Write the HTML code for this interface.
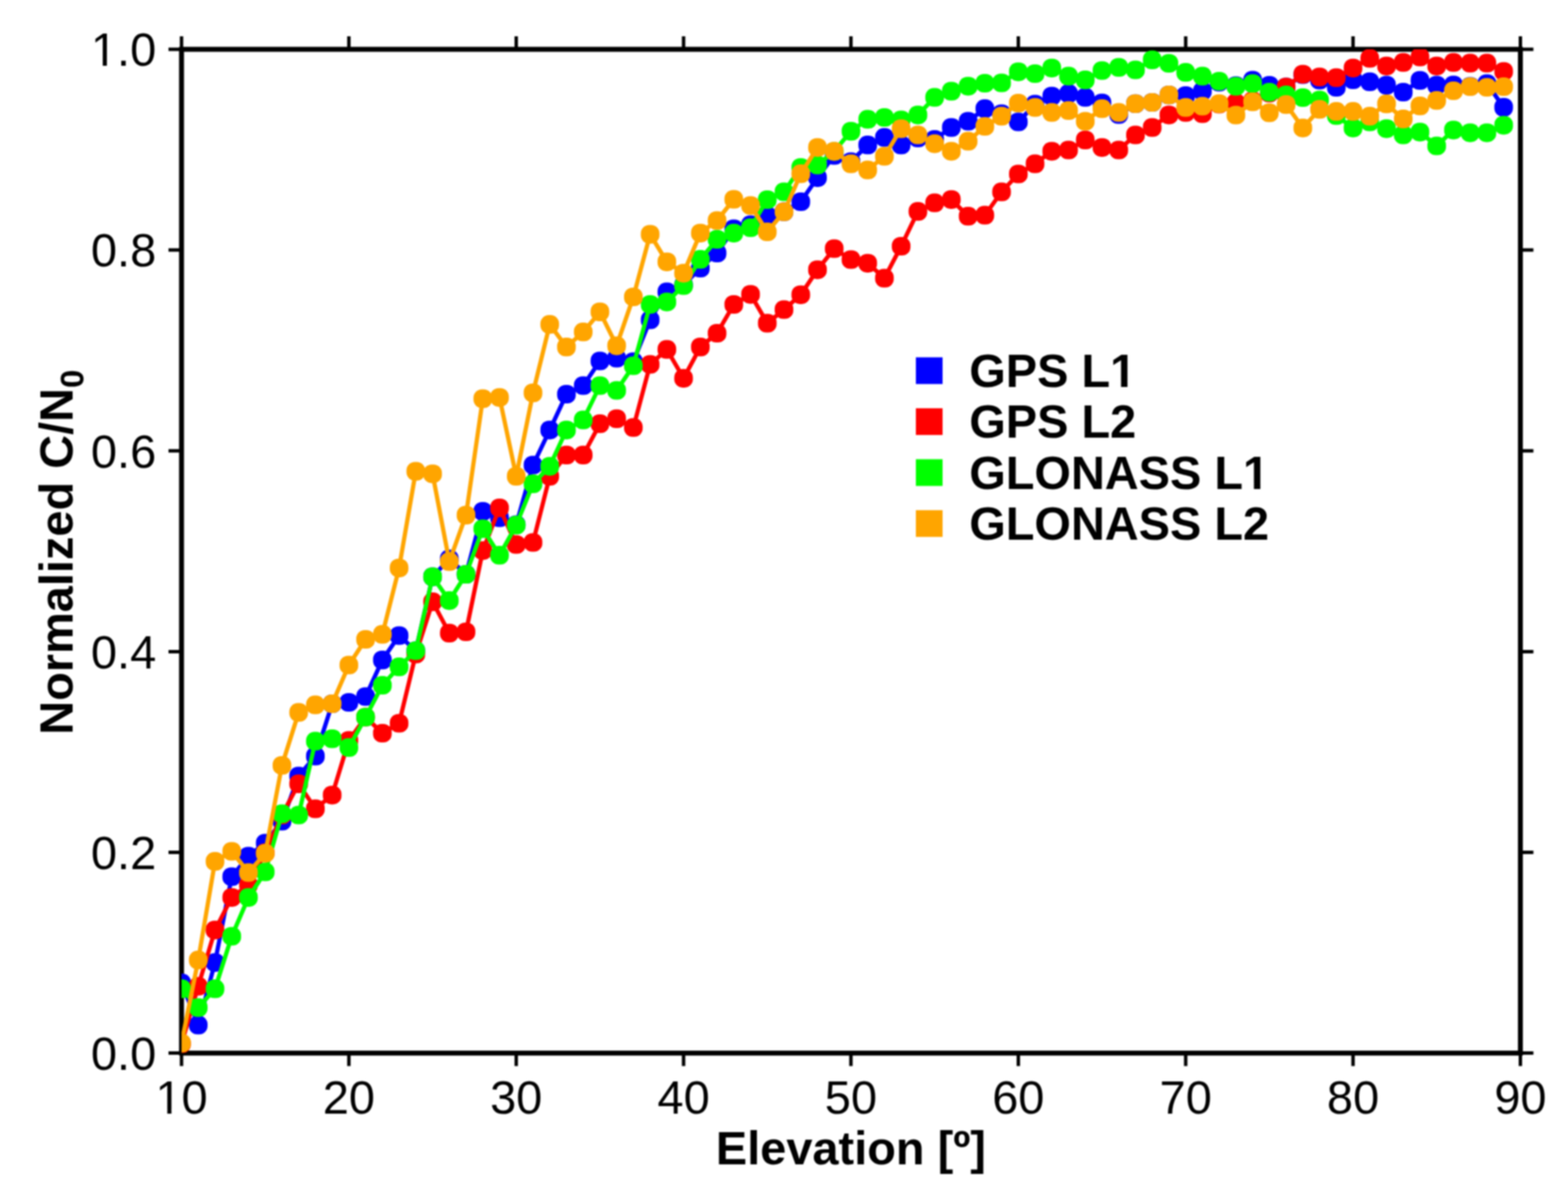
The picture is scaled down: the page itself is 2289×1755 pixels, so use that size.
<!DOCTYPE html>
<html lang="en"><head><meta charset="utf-8"><title>Normalized C/N0 vs Elevation</title>
<style>html,body{margin:0;padding:0;background:#fff;}body{width:2289px;height:1755px;overflow:hidden;}svg{display:block;}text{font-family:"Liberation Sans",Arial,Helvetica,sans-serif;fill:#000;}</style></head><body>
<svg width="2289" height="1755" viewBox="0 0 2289 1755">
<defs><filter id="soft" x="0" y="0" width="2289" height="1755" filterUnits="userSpaceOnUse" color-interpolation-filters="sRGB"><feGaussianBlur stdDeviation="1.10"/></filter></defs>
<g filter="url(#soft)">
<defs><clipPath id="plot"><rect x="265.0" y="72.0" width="1954.5" height="1465.6"/></clipPath></defs>
<rect width="2289" height="1755" fill="#fff"/>
<g stroke="#000" fill="none">
<rect x="265.0" y="72.0" width="1954.5" height="1465.6" stroke-width="7.2"/>
<path stroke-width="5.0" d="M265.0 1537.6v19M265.0 72.0v-19M509.3 1537.6v19M509.3 72.0v-19M753.6 1537.6v19M753.6 72.0v-19M997.9 1537.6v19M997.9 72.0v-19M1242.2 1537.6v19M1242.2 72.0v-19M1486.6 1537.6v19M1486.6 72.0v-19M1730.9 1537.6v19M1730.9 72.0v-19M1975.2 1537.6v19M1975.2 72.0v-19M2219.5 1537.6v19M2219.5 72.0v-19M265.0 1537.6h-19M2219.5 1537.6h19M265.0 1244.5h-19M2219.5 1244.5h19M265.0 951.4h-19M2219.5 951.4h19M265.0 658.2h-19M2219.5 658.2h19M265.0 365.1h-19M2219.5 365.1h19M265.0 72.0h-19M2219.5 72.0h19"/>
</g>
<g clip-path="url(#plot)">
<g fill="#0000ff" stroke="#0000ff">
<polyline fill="none" stroke-width="6.2" stroke-linejoin="round" stroke-linecap="round" points="265.0,1435.0 289.4,1496.7 313.9,1405.3 338.3,1280.0 362.7,1250.0 387.2,1231.0 411.6,1199.0 436.0,1133.0 460.4,1104.0 484.9,1027.5 509.3,1025.5 533.7,1017.0 558.2,963.6 582.6,928.0 607.0,950.0 631.5,842.1 655.9,816.0 680.3,838.5 704.8,746.6 729.2,756.0 753.6,766.0 778.1,679.0 802.5,627.8 826.9,575.5 851.4,563.0 875.8,527.0 900.2,523.0 924.6,528.0 949.1,467.0 973.5,426.2 997.9,416.0 1022.4,391.5 1046.8,369.5 1071.2,334.0 1095.7,328.0 1120.1,315.0 1144.5,309.2 1169.0,294.5 1193.4,259.3 1217.8,227.0 1242.2,236.0 1266.7,211.7 1291.1,200.7 1315.5,211.7 1340.0,201.5 1364.4,203.5 1388.8,186.1 1413.3,177.0 1437.7,158.7 1462.1,166.0 1486.6,178.0 1511.0,152.1 1535.4,140.4 1559.9,136.7 1584.3,142.2 1608.7,150.3 1633.2,167.1 1657.6,151.4 1682.0,149.5 1706.4,138.6 1730.9,139.5 1755.3,133.1 1779.7,120.0 1804.2,125.0 1828.6,117.0 1853.0,124.5 1877.5,127.0 1901.9,109.0 1926.3,117.0 1950.8,127.5 1975.2,116.4 1999.6,119.4 2024.0,124.4 2048.5,134.5 2072.9,117.4 2097.3,124.4 2121.8,124.0 2146.2,126.0 2170.6,122.0 2195.1,156.6"/>
<g stroke="none"><rect x="251.4" y="1421.4" width="27.2" height="27.2" rx="12.2"/><rect x="275.8" y="1483.1" width="27.2" height="27.2" rx="12.2"/><rect x="300.3" y="1391.7" width="27.2" height="27.2" rx="12.2"/><rect x="324.7" y="1266.4" width="27.2" height="27.2" rx="12.2"/><rect x="349.1" y="1236.4" width="27.2" height="27.2" rx="12.2"/><rect x="373.6" y="1217.4" width="27.2" height="27.2" rx="12.2"/><rect x="398.0" y="1185.4" width="27.2" height="27.2" rx="12.2"/><rect x="422.4" y="1119.4" width="27.2" height="27.2" rx="12.2"/><rect x="446.8" y="1090.4" width="27.2" height="27.2" rx="12.2"/><rect x="471.3" y="1013.9" width="27.2" height="27.2" rx="12.2"/><rect x="495.7" y="1011.9" width="27.2" height="27.2" rx="12.2"/><rect x="520.1" y="1003.4" width="27.2" height="27.2" rx="12.2"/><rect x="544.6" y="950.0" width="27.2" height="27.2" rx="12.2"/><rect x="569.0" y="914.4" width="27.2" height="27.2" rx="12.2"/><rect x="593.4" y="936.4" width="27.2" height="27.2" rx="12.2"/><rect x="617.9" y="828.5" width="27.2" height="27.2" rx="12.2"/><rect x="642.3" y="802.4" width="27.2" height="27.2" rx="12.2"/><rect x="666.7" y="824.9" width="27.2" height="27.2" rx="12.2"/><rect x="691.2" y="733.0" width="27.2" height="27.2" rx="12.2"/><rect x="715.6" y="742.4" width="27.2" height="27.2" rx="12.2"/><rect x="740.0" y="752.4" width="27.2" height="27.2" rx="12.2"/><rect x="764.5" y="665.4" width="27.2" height="27.2" rx="12.2"/><rect x="788.9" y="614.2" width="27.2" height="27.2" rx="12.2"/><rect x="813.3" y="561.9" width="27.2" height="27.2" rx="12.2"/><rect x="837.8" y="549.4" width="27.2" height="27.2" rx="12.2"/><rect x="862.2" y="513.4" width="27.2" height="27.2" rx="12.2"/><rect x="886.6" y="509.4" width="27.2" height="27.2" rx="12.2"/><rect x="911.0" y="514.4" width="27.2" height="27.2" rx="12.2"/><rect x="935.5" y="453.4" width="27.2" height="27.2" rx="12.2"/><rect x="959.9" y="412.6" width="27.2" height="27.2" rx="12.2"/><rect x="984.3" y="402.4" width="27.2" height="27.2" rx="12.2"/><rect x="1008.8" y="377.9" width="27.2" height="27.2" rx="12.2"/><rect x="1033.2" y="355.9" width="27.2" height="27.2" rx="12.2"/><rect x="1057.6" y="320.4" width="27.2" height="27.2" rx="12.2"/><rect x="1082.1" y="314.4" width="27.2" height="27.2" rx="12.2"/><rect x="1106.5" y="301.4" width="27.2" height="27.2" rx="12.2"/><rect x="1130.9" y="295.6" width="27.2" height="27.2" rx="12.2"/><rect x="1155.4" y="280.9" width="27.2" height="27.2" rx="12.2"/><rect x="1179.8" y="245.7" width="27.2" height="27.2" rx="12.2"/><rect x="1204.2" y="213.4" width="27.2" height="27.2" rx="12.2"/><rect x="1228.7" y="222.4" width="27.2" height="27.2" rx="12.2"/><rect x="1253.1" y="198.1" width="27.2" height="27.2" rx="12.2"/><rect x="1277.5" y="187.1" width="27.2" height="27.2" rx="12.2"/><rect x="1301.9" y="198.1" width="27.2" height="27.2" rx="12.2"/><rect x="1326.4" y="187.9" width="27.2" height="27.2" rx="12.2"/><rect x="1350.8" y="189.9" width="27.2" height="27.2" rx="12.2"/><rect x="1375.2" y="172.5" width="27.2" height="27.2" rx="12.2"/><rect x="1399.7" y="163.4" width="27.2" height="27.2" rx="12.2"/><rect x="1424.1" y="145.1" width="27.2" height="27.2" rx="12.2"/><rect x="1448.5" y="152.4" width="27.2" height="27.2" rx="12.2"/><rect x="1473.0" y="164.4" width="27.2" height="27.2" rx="12.2"/><rect x="1497.4" y="138.5" width="27.2" height="27.2" rx="12.2"/><rect x="1521.8" y="126.8" width="27.2" height="27.2" rx="12.2"/><rect x="1546.3" y="123.1" width="27.2" height="27.2" rx="12.2"/><rect x="1570.7" y="128.6" width="27.2" height="27.2" rx="12.2"/><rect x="1595.1" y="136.7" width="27.2" height="27.2" rx="12.2"/><rect x="1619.6" y="153.5" width="27.2" height="27.2" rx="12.2"/><rect x="1644.0" y="137.8" width="27.2" height="27.2" rx="12.2"/><rect x="1668.4" y="135.9" width="27.2" height="27.2" rx="12.2"/><rect x="1692.8" y="125.0" width="27.2" height="27.2" rx="12.2"/><rect x="1717.3" y="125.9" width="27.2" height="27.2" rx="12.2"/><rect x="1741.7" y="119.5" width="27.2" height="27.2" rx="12.2"/><rect x="1766.1" y="106.4" width="27.2" height="27.2" rx="12.2"/><rect x="1790.6" y="111.4" width="27.2" height="27.2" rx="12.2"/><rect x="1815.0" y="103.4" width="27.2" height="27.2" rx="12.2"/><rect x="1839.4" y="110.9" width="27.2" height="27.2" rx="12.2"/><rect x="1863.9" y="113.4" width="27.2" height="27.2" rx="12.2"/><rect x="1888.3" y="95.4" width="27.2" height="27.2" rx="12.2"/><rect x="1912.7" y="103.4" width="27.2" height="27.2" rx="12.2"/><rect x="1937.2" y="113.9" width="27.2" height="27.2" rx="12.2"/><rect x="1961.6" y="102.8" width="27.2" height="27.2" rx="12.2"/><rect x="1986.0" y="105.8" width="27.2" height="27.2" rx="12.2"/><rect x="2010.5" y="110.8" width="27.2" height="27.2" rx="12.2"/><rect x="2034.9" y="120.9" width="27.2" height="27.2" rx="12.2"/><rect x="2059.3" y="103.8" width="27.2" height="27.2" rx="12.2"/><rect x="2083.7" y="110.8" width="27.2" height="27.2" rx="12.2"/><rect x="2108.2" y="110.4" width="27.2" height="27.2" rx="12.2"/><rect x="2132.6" y="112.4" width="27.2" height="27.2" rx="12.2"/><rect x="2157.0" y="108.4" width="27.2" height="27.2" rx="12.2"/><rect x="2181.5" y="143.0" width="27.2" height="27.2" rx="12.2"/></g>
</g>
<g fill="#ff0000" stroke="#ff0000">
<polyline fill="none" stroke-width="6.2" stroke-linejoin="round" stroke-linecap="round" points="265.0,1524.0 289.4,1440.0 313.9,1357.8 338.3,1310.3 362.7,1292.0 387.2,1245.0 411.6,1190.0 436.0,1144.4 460.4,1180.9 484.9,1160.8 509.3,1081.0 533.7,1047.0 558.2,1070.5 582.6,1056.0 607.0,955.0 631.5,878.7 655.9,924.4 680.3,922.5 704.8,803.8 729.2,741.5 753.6,795.0 778.1,792.0 802.5,695.4 826.9,664.4 851.4,664.4 875.8,618.7 900.2,611.4 924.6,624.2 949.1,532.0 973.5,510.2 997.9,552.3 1022.4,506.6 1046.8,486.5 1071.2,444.5 1095.7,429.8 1120.1,471.9 1144.5,452.0 1169.0,430.3 1193.4,393.8 1217.8,363.0 1242.2,379.0 1266.7,384.3 1291.1,406.1 1315.5,359.5 1340.0,308.7 1364.4,296.2 1388.8,291.3 1413.3,315.7 1437.7,314.2 1462.1,280.2 1486.6,254.0 1511.0,239.1 1535.4,220.8 1559.9,219.0 1584.3,204.4 1608.7,215.3 1633.2,219.0 1657.6,197.0 1682.0,186.1 1706.4,167.8 1730.9,164.2 1755.3,166.0 1779.7,152.0 1804.2,150.0 1828.6,147.0 1853.0,136.0 1877.5,127.0 1901.9,108.3 1926.3,112.4 1950.8,113.4 1975.2,99.3 1999.6,85.2 2024.0,96.3 2048.5,91.2 2072.9,83.2 2097.3,96.3 2121.8,91.2 2146.2,92.2 2170.6,92.2 2195.1,104.3"/>
<g stroke="none"><rect x="251.4" y="1510.4" width="27.2" height="27.2" rx="12.2"/><rect x="275.8" y="1426.4" width="27.2" height="27.2" rx="12.2"/><rect x="300.3" y="1344.2" width="27.2" height="27.2" rx="12.2"/><rect x="324.7" y="1296.7" width="27.2" height="27.2" rx="12.2"/><rect x="349.1" y="1278.4" width="27.2" height="27.2" rx="12.2"/><rect x="373.6" y="1231.4" width="27.2" height="27.2" rx="12.2"/><rect x="398.0" y="1176.4" width="27.2" height="27.2" rx="12.2"/><rect x="422.4" y="1130.8" width="27.2" height="27.2" rx="12.2"/><rect x="446.8" y="1167.3" width="27.2" height="27.2" rx="12.2"/><rect x="471.3" y="1147.2" width="27.2" height="27.2" rx="12.2"/><rect x="495.7" y="1067.4" width="27.2" height="27.2" rx="12.2"/><rect x="520.1" y="1033.4" width="27.2" height="27.2" rx="12.2"/><rect x="544.6" y="1056.9" width="27.2" height="27.2" rx="12.2"/><rect x="569.0" y="1042.4" width="27.2" height="27.2" rx="12.2"/><rect x="593.4" y="941.4" width="27.2" height="27.2" rx="12.2"/><rect x="617.9" y="865.1" width="27.2" height="27.2" rx="12.2"/><rect x="642.3" y="910.8" width="27.2" height="27.2" rx="12.2"/><rect x="666.7" y="908.9" width="27.2" height="27.2" rx="12.2"/><rect x="691.2" y="790.2" width="27.2" height="27.2" rx="12.2"/><rect x="715.6" y="727.9" width="27.2" height="27.2" rx="12.2"/><rect x="740.0" y="781.4" width="27.2" height="27.2" rx="12.2"/><rect x="764.5" y="778.4" width="27.2" height="27.2" rx="12.2"/><rect x="788.9" y="681.8" width="27.2" height="27.2" rx="12.2"/><rect x="813.3" y="650.8" width="27.2" height="27.2" rx="12.2"/><rect x="837.8" y="650.8" width="27.2" height="27.2" rx="12.2"/><rect x="862.2" y="605.1" width="27.2" height="27.2" rx="12.2"/><rect x="886.6" y="597.8" width="27.2" height="27.2" rx="12.2"/><rect x="911.0" y="610.6" width="27.2" height="27.2" rx="12.2"/><rect x="935.5" y="518.4" width="27.2" height="27.2" rx="12.2"/><rect x="959.9" y="496.6" width="27.2" height="27.2" rx="12.2"/><rect x="984.3" y="538.7" width="27.2" height="27.2" rx="12.2"/><rect x="1008.8" y="493.0" width="27.2" height="27.2" rx="12.2"/><rect x="1033.2" y="472.9" width="27.2" height="27.2" rx="12.2"/><rect x="1057.6" y="430.9" width="27.2" height="27.2" rx="12.2"/><rect x="1082.1" y="416.2" width="27.2" height="27.2" rx="12.2"/><rect x="1106.5" y="458.3" width="27.2" height="27.2" rx="12.2"/><rect x="1130.9" y="438.4" width="27.2" height="27.2" rx="12.2"/><rect x="1155.4" y="416.7" width="27.2" height="27.2" rx="12.2"/><rect x="1179.8" y="380.2" width="27.2" height="27.2" rx="12.2"/><rect x="1204.2" y="349.4" width="27.2" height="27.2" rx="12.2"/><rect x="1228.7" y="365.4" width="27.2" height="27.2" rx="12.2"/><rect x="1253.1" y="370.7" width="27.2" height="27.2" rx="12.2"/><rect x="1277.5" y="392.5" width="27.2" height="27.2" rx="12.2"/><rect x="1301.9" y="345.9" width="27.2" height="27.2" rx="12.2"/><rect x="1326.4" y="295.1" width="27.2" height="27.2" rx="12.2"/><rect x="1350.8" y="282.6" width="27.2" height="27.2" rx="12.2"/><rect x="1375.2" y="277.7" width="27.2" height="27.2" rx="12.2"/><rect x="1399.7" y="302.1" width="27.2" height="27.2" rx="12.2"/><rect x="1424.1" y="300.6" width="27.2" height="27.2" rx="12.2"/><rect x="1448.5" y="266.6" width="27.2" height="27.2" rx="12.2"/><rect x="1473.0" y="240.4" width="27.2" height="27.2" rx="12.2"/><rect x="1497.4" y="225.5" width="27.2" height="27.2" rx="12.2"/><rect x="1521.8" y="207.2" width="27.2" height="27.2" rx="12.2"/><rect x="1546.3" y="205.4" width="27.2" height="27.2" rx="12.2"/><rect x="1570.7" y="190.8" width="27.2" height="27.2" rx="12.2"/><rect x="1595.1" y="201.7" width="27.2" height="27.2" rx="12.2"/><rect x="1619.6" y="205.4" width="27.2" height="27.2" rx="12.2"/><rect x="1644.0" y="183.4" width="27.2" height="27.2" rx="12.2"/><rect x="1668.4" y="172.5" width="27.2" height="27.2" rx="12.2"/><rect x="1692.8" y="154.2" width="27.2" height="27.2" rx="12.2"/><rect x="1717.3" y="150.6" width="27.2" height="27.2" rx="12.2"/><rect x="1741.7" y="152.4" width="27.2" height="27.2" rx="12.2"/><rect x="1766.1" y="138.4" width="27.2" height="27.2" rx="12.2"/><rect x="1790.6" y="136.4" width="27.2" height="27.2" rx="12.2"/><rect x="1815.0" y="133.4" width="27.2" height="27.2" rx="12.2"/><rect x="1839.4" y="122.4" width="27.2" height="27.2" rx="12.2"/><rect x="1863.9" y="113.4" width="27.2" height="27.2" rx="12.2"/><rect x="1888.3" y="94.7" width="27.2" height="27.2" rx="12.2"/><rect x="1912.7" y="98.8" width="27.2" height="27.2" rx="12.2"/><rect x="1937.2" y="99.8" width="27.2" height="27.2" rx="12.2"/><rect x="1961.6" y="85.7" width="27.2" height="27.2" rx="12.2"/><rect x="1986.0" y="71.6" width="27.2" height="27.2" rx="12.2"/><rect x="2010.5" y="82.7" width="27.2" height="27.2" rx="12.2"/><rect x="2034.9" y="77.6" width="27.2" height="27.2" rx="12.2"/><rect x="2059.3" y="69.6" width="27.2" height="27.2" rx="12.2"/><rect x="2083.7" y="82.7" width="27.2" height="27.2" rx="12.2"/><rect x="2108.2" y="77.6" width="27.2" height="27.2" rx="12.2"/><rect x="2132.6" y="78.6" width="27.2" height="27.2" rx="12.2"/><rect x="2157.0" y="78.6" width="27.2" height="27.2" rx="12.2"/><rect x="2181.5" y="90.7" width="27.2" height="27.2" rx="12.2"/></g>
</g>
<g fill="#00ff00" stroke="#00ff00">
<polyline fill="none" stroke-width="6.2" stroke-linejoin="round" stroke-linecap="round" points="265.0,1443.7 289.4,1471.1 313.9,1443.7 338.3,1367.0 362.7,1310.3 387.2,1273.0 411.6,1188.2 436.0,1190.0 460.4,1082.2 484.9,1078.6 509.3,1091.4 533.7,1047.0 558.2,1000.5 582.6,973.7 607.0,950.0 631.5,842.1 655.9,876.8 680.3,838.5 704.8,772.0 729.2,810.7 753.6,766.7 778.1,706.4 802.5,680.8 826.9,627.8 851.4,613.2 875.8,563.0 900.2,570.0 924.6,534.0 949.1,444.5 973.5,440.8 997.9,417.0 1022.4,378.7 1046.8,349.4 1071.2,340.3 1095.7,332.5 1120.1,291.5 1144.5,280.0 1169.0,244.6 1193.4,241.0 1217.8,221.0 1242.2,191.6 1266.7,174.2 1291.1,171.5 1315.5,175.0 1340.0,167.8 1364.4,142.2 1388.8,133.1 1413.3,125.8 1437.7,121.5 1462.1,121.0 1486.6,104.8 1511.0,107.5 1535.4,99.3 1559.9,111.2 1584.3,116.6 1608.7,103.0 1633.2,98.4 1657.6,102.0 1682.0,87.4 1706.4,92.5 1730.9,105.7 1755.3,111.2 1779.7,118.5 1804.2,126.0 1828.6,122.0 1853.0,134.5 1877.5,138.5 1901.9,142.5 1926.3,146.0 1950.8,168.7 1975.2,186.8 1999.6,178.0 2024.0,187.8 2048.5,196.9 2072.9,192.8 2097.3,213.0 2121.8,189.8 2146.2,193.8 2170.6,193.8 2195.1,182.8"/>
<g stroke="none"><rect x="251.4" y="1430.1" width="27.2" height="27.2" rx="12.2"/><rect x="275.8" y="1457.5" width="27.2" height="27.2" rx="12.2"/><rect x="300.3" y="1430.1" width="27.2" height="27.2" rx="12.2"/><rect x="324.7" y="1353.4" width="27.2" height="27.2" rx="12.2"/><rect x="349.1" y="1296.7" width="27.2" height="27.2" rx="12.2"/><rect x="373.6" y="1259.4" width="27.2" height="27.2" rx="12.2"/><rect x="398.0" y="1174.6" width="27.2" height="27.2" rx="12.2"/><rect x="422.4" y="1176.4" width="27.2" height="27.2" rx="12.2"/><rect x="446.8" y="1068.6" width="27.2" height="27.2" rx="12.2"/><rect x="471.3" y="1065.0" width="27.2" height="27.2" rx="12.2"/><rect x="495.7" y="1077.8" width="27.2" height="27.2" rx="12.2"/><rect x="520.1" y="1033.4" width="27.2" height="27.2" rx="12.2"/><rect x="544.6" y="986.9" width="27.2" height="27.2" rx="12.2"/><rect x="569.0" y="960.1" width="27.2" height="27.2" rx="12.2"/><rect x="593.4" y="936.4" width="27.2" height="27.2" rx="12.2"/><rect x="617.9" y="828.5" width="27.2" height="27.2" rx="12.2"/><rect x="642.3" y="863.2" width="27.2" height="27.2" rx="12.2"/><rect x="666.7" y="824.9" width="27.2" height="27.2" rx="12.2"/><rect x="691.2" y="758.4" width="27.2" height="27.2" rx="12.2"/><rect x="715.6" y="797.1" width="27.2" height="27.2" rx="12.2"/><rect x="740.0" y="753.1" width="27.2" height="27.2" rx="12.2"/><rect x="764.5" y="692.8" width="27.2" height="27.2" rx="12.2"/><rect x="788.9" y="667.2" width="27.2" height="27.2" rx="12.2"/><rect x="813.3" y="614.2" width="27.2" height="27.2" rx="12.2"/><rect x="837.8" y="599.6" width="27.2" height="27.2" rx="12.2"/><rect x="862.2" y="549.4" width="27.2" height="27.2" rx="12.2"/><rect x="886.6" y="556.4" width="27.2" height="27.2" rx="12.2"/><rect x="911.0" y="520.4" width="27.2" height="27.2" rx="12.2"/><rect x="935.5" y="430.9" width="27.2" height="27.2" rx="12.2"/><rect x="959.9" y="427.2" width="27.2" height="27.2" rx="12.2"/><rect x="984.3" y="403.4" width="27.2" height="27.2" rx="12.2"/><rect x="1008.8" y="365.1" width="27.2" height="27.2" rx="12.2"/><rect x="1033.2" y="335.8" width="27.2" height="27.2" rx="12.2"/><rect x="1057.6" y="326.7" width="27.2" height="27.2" rx="12.2"/><rect x="1082.1" y="318.9" width="27.2" height="27.2" rx="12.2"/><rect x="1106.5" y="277.9" width="27.2" height="27.2" rx="12.2"/><rect x="1130.9" y="266.4" width="27.2" height="27.2" rx="12.2"/><rect x="1155.4" y="231.0" width="27.2" height="27.2" rx="12.2"/><rect x="1179.8" y="227.4" width="27.2" height="27.2" rx="12.2"/><rect x="1204.2" y="207.4" width="27.2" height="27.2" rx="12.2"/><rect x="1228.7" y="178.0" width="27.2" height="27.2" rx="12.2"/><rect x="1253.1" y="160.6" width="27.2" height="27.2" rx="12.2"/><rect x="1277.5" y="157.9" width="27.2" height="27.2" rx="12.2"/><rect x="1301.9" y="161.4" width="27.2" height="27.2" rx="12.2"/><rect x="1326.4" y="154.2" width="27.2" height="27.2" rx="12.2"/><rect x="1350.8" y="128.6" width="27.2" height="27.2" rx="12.2"/><rect x="1375.2" y="119.5" width="27.2" height="27.2" rx="12.2"/><rect x="1399.7" y="112.2" width="27.2" height="27.2" rx="12.2"/><rect x="1424.1" y="107.9" width="27.2" height="27.2" rx="12.2"/><rect x="1448.5" y="107.4" width="27.2" height="27.2" rx="12.2"/><rect x="1473.0" y="91.2" width="27.2" height="27.2" rx="12.2"/><rect x="1497.4" y="93.9" width="27.2" height="27.2" rx="12.2"/><rect x="1521.8" y="85.7" width="27.2" height="27.2" rx="12.2"/><rect x="1546.3" y="97.6" width="27.2" height="27.2" rx="12.2"/><rect x="1570.7" y="103.0" width="27.2" height="27.2" rx="12.2"/><rect x="1595.1" y="89.4" width="27.2" height="27.2" rx="12.2"/><rect x="1619.6" y="84.8" width="27.2" height="27.2" rx="12.2"/><rect x="1644.0" y="88.4" width="27.2" height="27.2" rx="12.2"/><rect x="1668.4" y="73.8" width="27.2" height="27.2" rx="12.2"/><rect x="1692.8" y="78.9" width="27.2" height="27.2" rx="12.2"/><rect x="1717.3" y="92.1" width="27.2" height="27.2" rx="12.2"/><rect x="1741.7" y="97.6" width="27.2" height="27.2" rx="12.2"/><rect x="1766.1" y="104.9" width="27.2" height="27.2" rx="12.2"/><rect x="1790.6" y="112.4" width="27.2" height="27.2" rx="12.2"/><rect x="1815.0" y="108.4" width="27.2" height="27.2" rx="12.2"/><rect x="1839.4" y="120.9" width="27.2" height="27.2" rx="12.2"/><rect x="1863.9" y="124.9" width="27.2" height="27.2" rx="12.2"/><rect x="1888.3" y="128.9" width="27.2" height="27.2" rx="12.2"/><rect x="1912.7" y="132.4" width="27.2" height="27.2" rx="12.2"/><rect x="1937.2" y="155.1" width="27.2" height="27.2" rx="12.2"/><rect x="1961.6" y="173.2" width="27.2" height="27.2" rx="12.2"/><rect x="1986.0" y="164.4" width="27.2" height="27.2" rx="12.2"/><rect x="2010.5" y="174.2" width="27.2" height="27.2" rx="12.2"/><rect x="2034.9" y="183.3" width="27.2" height="27.2" rx="12.2"/><rect x="2059.3" y="179.2" width="27.2" height="27.2" rx="12.2"/><rect x="2083.7" y="199.4" width="27.2" height="27.2" rx="12.2"/><rect x="2108.2" y="176.2" width="27.2" height="27.2" rx="12.2"/><rect x="2132.6" y="180.2" width="27.2" height="27.2" rx="12.2"/><rect x="2157.0" y="180.2" width="27.2" height="27.2" rx="12.2"/><rect x="2181.5" y="169.2" width="27.2" height="27.2" rx="12.2"/></g>
</g>
<g fill="#ffa500" stroke="#ffa500">
<polyline fill="none" stroke-width="6.2" stroke-linejoin="round" stroke-linecap="round" points="265.0,1523.0 289.4,1401.7 313.9,1257.7 338.3,1243.0 362.7,1274.0 387.2,1245.8 411.6,1117.5 436.0,1040.2 460.4,1029.2 484.9,1027.5 509.3,971.0 533.7,933.5 558.2,926.2 582.6,829.3 607.0,688.1 631.5,691.8 655.9,820.0 680.3,752.1 704.8,582.1 729.2,580.3 753.6,695.4 778.1,573.6 802.5,473.7 826.9,506.6 851.4,484.7 875.8,455.4 900.2,504.8 924.6,433.5 949.1,342.1 973.5,382.3 997.9,398.8 1022.4,340.3 1046.8,322.0 1071.2,291.0 1095.7,300.0 1120.1,338.5 1144.5,309.2 1169.0,253.7 1193.4,215.3 1217.8,220.8 1242.2,239.1 1266.7,248.2 1291.1,228.1 1315.5,187.9 1340.0,197.0 1364.4,209.8 1388.8,220.8 1413.3,206.2 1437.7,184.5 1462.1,169.6 1486.6,150.5 1511.0,156.9 1535.4,164.2 1559.9,161.4 1584.3,177.0 1608.7,158.7 1633.2,164.2 1657.6,151.4 1682.0,149.5 1706.4,138.6 1730.9,156.9 1755.3,155.0 1779.7,151.4 1804.2,168.0 1828.6,148.6 1853.0,164.7 1877.5,152.6 1901.9,186.8 1926.3,159.6 1950.8,162.7 1975.2,162.7 1999.6,169.7 2024.0,151.6 2048.5,173.7 2072.9,154.6 2097.3,146.6 2121.8,132.5 2146.2,126.5 2170.6,127.5 2195.1,126.5"/>
<g stroke="none"><rect x="251.4" y="1509.4" width="27.2" height="27.2" rx="12.2"/><rect x="275.8" y="1388.1" width="27.2" height="27.2" rx="12.2"/><rect x="300.3" y="1244.1" width="27.2" height="27.2" rx="12.2"/><rect x="324.7" y="1229.4" width="27.2" height="27.2" rx="12.2"/><rect x="349.1" y="1260.4" width="27.2" height="27.2" rx="12.2"/><rect x="373.6" y="1232.2" width="27.2" height="27.2" rx="12.2"/><rect x="398.0" y="1103.9" width="27.2" height="27.2" rx="12.2"/><rect x="422.4" y="1026.6" width="27.2" height="27.2" rx="12.2"/><rect x="446.8" y="1015.6" width="27.2" height="27.2" rx="12.2"/><rect x="471.3" y="1013.9" width="27.2" height="27.2" rx="12.2"/><rect x="495.7" y="957.4" width="27.2" height="27.2" rx="12.2"/><rect x="520.1" y="919.9" width="27.2" height="27.2" rx="12.2"/><rect x="544.6" y="912.6" width="27.2" height="27.2" rx="12.2"/><rect x="569.0" y="815.7" width="27.2" height="27.2" rx="12.2"/><rect x="593.4" y="674.5" width="27.2" height="27.2" rx="12.2"/><rect x="617.9" y="678.2" width="27.2" height="27.2" rx="12.2"/><rect x="642.3" y="806.4" width="27.2" height="27.2" rx="12.2"/><rect x="666.7" y="738.5" width="27.2" height="27.2" rx="12.2"/><rect x="691.2" y="568.5" width="27.2" height="27.2" rx="12.2"/><rect x="715.6" y="566.7" width="27.2" height="27.2" rx="12.2"/><rect x="740.0" y="681.8" width="27.2" height="27.2" rx="12.2"/><rect x="764.5" y="560.0" width="27.2" height="27.2" rx="12.2"/><rect x="788.9" y="460.1" width="27.2" height="27.2" rx="12.2"/><rect x="813.3" y="493.0" width="27.2" height="27.2" rx="12.2"/><rect x="837.8" y="471.1" width="27.2" height="27.2" rx="12.2"/><rect x="862.2" y="441.8" width="27.2" height="27.2" rx="12.2"/><rect x="886.6" y="491.2" width="27.2" height="27.2" rx="12.2"/><rect x="911.0" y="419.9" width="27.2" height="27.2" rx="12.2"/><rect x="935.5" y="328.5" width="27.2" height="27.2" rx="12.2"/><rect x="959.9" y="368.7" width="27.2" height="27.2" rx="12.2"/><rect x="984.3" y="385.2" width="27.2" height="27.2" rx="12.2"/><rect x="1008.8" y="326.7" width="27.2" height="27.2" rx="12.2"/><rect x="1033.2" y="308.4" width="27.2" height="27.2" rx="12.2"/><rect x="1057.6" y="277.4" width="27.2" height="27.2" rx="12.2"/><rect x="1082.1" y="286.4" width="27.2" height="27.2" rx="12.2"/><rect x="1106.5" y="324.9" width="27.2" height="27.2" rx="12.2"/><rect x="1130.9" y="295.6" width="27.2" height="27.2" rx="12.2"/><rect x="1155.4" y="240.1" width="27.2" height="27.2" rx="12.2"/><rect x="1179.8" y="201.7" width="27.2" height="27.2" rx="12.2"/><rect x="1204.2" y="207.2" width="27.2" height="27.2" rx="12.2"/><rect x="1228.7" y="225.5" width="27.2" height="27.2" rx="12.2"/><rect x="1253.1" y="234.6" width="27.2" height="27.2" rx="12.2"/><rect x="1277.5" y="214.5" width="27.2" height="27.2" rx="12.2"/><rect x="1301.9" y="174.3" width="27.2" height="27.2" rx="12.2"/><rect x="1326.4" y="183.4" width="27.2" height="27.2" rx="12.2"/><rect x="1350.8" y="196.2" width="27.2" height="27.2" rx="12.2"/><rect x="1375.2" y="207.2" width="27.2" height="27.2" rx="12.2"/><rect x="1399.7" y="192.6" width="27.2" height="27.2" rx="12.2"/><rect x="1424.1" y="170.9" width="27.2" height="27.2" rx="12.2"/><rect x="1448.5" y="156.0" width="27.2" height="27.2" rx="12.2"/><rect x="1473.0" y="136.9" width="27.2" height="27.2" rx="12.2"/><rect x="1497.4" y="143.3" width="27.2" height="27.2" rx="12.2"/><rect x="1521.8" y="150.6" width="27.2" height="27.2" rx="12.2"/><rect x="1546.3" y="147.8" width="27.2" height="27.2" rx="12.2"/><rect x="1570.7" y="163.4" width="27.2" height="27.2" rx="12.2"/><rect x="1595.1" y="145.1" width="27.2" height="27.2" rx="12.2"/><rect x="1619.6" y="150.6" width="27.2" height="27.2" rx="12.2"/><rect x="1644.0" y="137.8" width="27.2" height="27.2" rx="12.2"/><rect x="1668.4" y="135.9" width="27.2" height="27.2" rx="12.2"/><rect x="1692.8" y="125.0" width="27.2" height="27.2" rx="12.2"/><rect x="1717.3" y="143.3" width="27.2" height="27.2" rx="12.2"/><rect x="1741.7" y="141.4" width="27.2" height="27.2" rx="12.2"/><rect x="1766.1" y="137.8" width="27.2" height="27.2" rx="12.2"/><rect x="1790.6" y="154.4" width="27.2" height="27.2" rx="12.2"/><rect x="1815.0" y="135.0" width="27.2" height="27.2" rx="12.2"/><rect x="1839.4" y="151.1" width="27.2" height="27.2" rx="12.2"/><rect x="1863.9" y="139.0" width="27.2" height="27.2" rx="12.2"/><rect x="1888.3" y="173.2" width="27.2" height="27.2" rx="12.2"/><rect x="1912.7" y="146.0" width="27.2" height="27.2" rx="12.2"/><rect x="1937.2" y="149.1" width="27.2" height="27.2" rx="12.2"/><rect x="1961.6" y="149.1" width="27.2" height="27.2" rx="12.2"/><rect x="1986.0" y="156.1" width="27.2" height="27.2" rx="12.2"/><rect x="2010.5" y="138.0" width="27.2" height="27.2" rx="12.2"/><rect x="2034.9" y="160.1" width="27.2" height="27.2" rx="12.2"/><rect x="2059.3" y="141.0" width="27.2" height="27.2" rx="12.2"/><rect x="2083.7" y="133.0" width="27.2" height="27.2" rx="12.2"/><rect x="2108.2" y="118.9" width="27.2" height="27.2" rx="12.2"/><rect x="2132.6" y="112.9" width="27.2" height="27.2" rx="12.2"/><rect x="2157.0" y="113.9" width="27.2" height="27.2" rx="12.2"/><rect x="2181.5" y="112.9" width="27.2" height="27.2" rx="12.2"/></g>
</g>
</g>
<g font-size="68.50">
<text x="265.0" y="1625.5" text-anchor="middle">10</text>
<text x="509.3" y="1625.5" text-anchor="middle">20</text>
<text x="753.6" y="1625.5" text-anchor="middle">30</text>
<text x="997.9" y="1625.5" text-anchor="middle">40</text>
<text x="1242.2" y="1625.5" text-anchor="middle">50</text>
<text x="1486.6" y="1625.5" text-anchor="middle">60</text>
<text x="1730.9" y="1625.5" text-anchor="middle">70</text>
<text x="1975.2" y="1625.5" text-anchor="middle">80</text>
<text x="2219.5" y="1625.5" text-anchor="middle">90</text>
<text x="228.0" y="1561.9" text-anchor="end">0.0</text>
<text x="228.0" y="1268.8" text-anchor="end">0.2</text>
<text x="228.0" y="975.7" text-anchor="end">0.4</text>
<text x="228.0" y="682.5" text-anchor="end">0.6</text>
<text x="228.0" y="389.4" text-anchor="end">0.8</text>
<text x="228.0" y="96.3" text-anchor="end">1.0</text>
</g>
<g font-size="68.50" font-weight="bold">
<text x="1242.2" y="1699.5" text-anchor="middle">Elevation [º]</text>
<text transform="translate(105.5 806.3) rotate(-90)" text-anchor="middle">Normalized C/N<tspan font-size="47.95" dy="16">0</tspan></text>
<rect x="1337" y="521.7" width="39" height="39" fill="#0000ff"/>
<text x="1415" y="564.7">GPS L1</text>
<rect x="1337" y="596.1" width="39" height="39" fill="#ff0000"/>
<text x="1415" y="639.1">GPS L2</text>
<rect x="1337" y="670.5" width="39" height="39" fill="#00ff00"/>
<text x="1415" y="713.5">GLONASS L1</text>
<rect x="1337" y="744.9" width="39" height="39" fill="#ffa500"/>
<text x="1415" y="787.9">GLONASS L2</text>
</g>
<g fill="#fff"><rect x="1623.50" y="557.60" width="13.00" height="8.90"/><rect x="1645.90" y="557.60" width="12.60" height="8.90"/><rect x="1817.50" y="706.60" width="13.00" height="8.90"/><rect x="1839.90" y="706.60" width="12.60" height="8.90"/><rect x="230.00" y="1619.85" width="14.24" height="7.65"/><rect x="250.28" y="1619.85" width="13.22" height="7.65"/><rect x="136.00" y="89.85" width="13.97" height="7.65"/><rect x="156.03" y="89.85" width="13.47" height="7.65"/></g>
</g>
</svg></body></html>
